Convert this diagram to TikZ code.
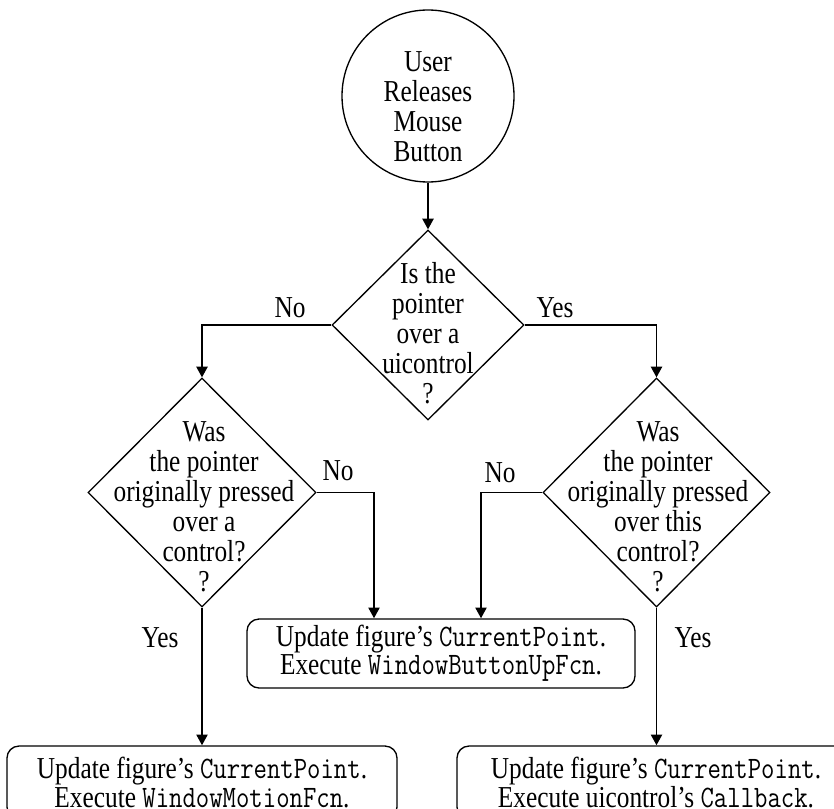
\documentclass[tikz,border=0pt]{standalone}
\usepackage{fontspec}
\setmainfont{Liberation Serif}
\usetikzlibrary{shapes.geometric,arrows.meta}
\newcommand\code[1]{{\fontsize{19.5}{16.25}\selectfont\ttfamily #1}}
\begin{document}
\begin{tikzpicture}[x=0.75pt,y=-0.75pt,
  flow/.style={line width=1pt,-{Triangle[length=8pt,width=8.5pt]}},
  dia/.style={draw,line width=1pt,diamond,inner sep=0pt,aspect=1},
  lbl/.style={font=\fontsize{19}{18.75}\selectfont,inner sep=0pt,yscale=1.2},
  txt/.style={align=center,font=\fontsize{19}{18.75}\selectfont,inner sep=0pt,yscale=1.2},
  act/.style={draw,line width=1pt,rounded corners=9pt,align=center,yscale=1.2,
              font=\fontsize{19}{16.25}\selectfont,inner sep=0pt}]
\useasboundingbox (0,0) rectangle (834,809);
\clip (0,0) rectangle (834,809);

% start event
\node[draw,circle,line width=1pt,minimum size=129pt,inner sep=0pt] (start) at (428,96) {};
\node[txt] (startt) at (428,107) {User\\Releases\\Mouse\\Button};

% decisions
\node[dia,minimum width=144pt,minimum height=142.5pt] (d1) at (428,325) {};
\node[txt] (d1t) at (428,333) {Is the\\pointer\\over a\\uicontrol\\?};

\node[dia,minimum width=171pt,minimum height=171.75pt] (d2) at (202,492.5) {};
\node[txt] (d2t) at (204,507) {Was\\the pointer\\originally pressed\\over a\\control?\\?};

\node[dia,minimum width=170.25pt,minimum height=171.75pt] (d3) at (656.5,492.5) {};
\node[txt] (d3t) at (658,507) {Was\\the pointer\\originally pressed\\over this\\control?\\?};

% actions (heights given before the vertical stretch of 1.2)
\node[act,minimum width=291pt,minimum height=43.1pt] (m) at (441,653.5)
  {Update figure’s \code{CurrentPoint}.\\Execute \code{WindowButtonUpFcn}.};
\node[act,minimum width=292.5pt,minimum height=45.6pt] (b1) at (202,782.5)
  {Update figure’s \code{CurrentPoint}.\\Execute \code{WindowMotionFcn}.};
\node[act,minimum width=298.5pt,minimum height=45.6pt] (b2) at (656,782.5)
  {Update figure’s \code{CurrentPoint}.\\Execute uicontrol’s \code{Callback}.};

% connectors
\draw[flow] (start.south) -- (d1.north);
\draw[flow] (d1.west) -| (d2.north);
\draw[flow] (d1.east) -| (d3.north);
\draw[flow] (d2.east) -| ([xshift=-50.25pt]m.north);
\draw[flow] (d3.west) -| ([xshift=30pt]m.north);
\draw[flow] (d2.south) -- (d2.south |- b1.north);
\draw[flow] (d3.south) -- (d3.south |- b2.north);

% branch labels
\node[lbl] (l1) at (290,308) {No};
\node[lbl] (l2) at (555,308) {Yes};
\node[lbl] (l3) at (338,471) {No};
\node[lbl] (l4) at (500,473) {No};
\node[lbl] (l5) at (160,638) {Yes};
\node[lbl] (l6) at (693,638) {Yes};
\end{tikzpicture}
\end{document}
